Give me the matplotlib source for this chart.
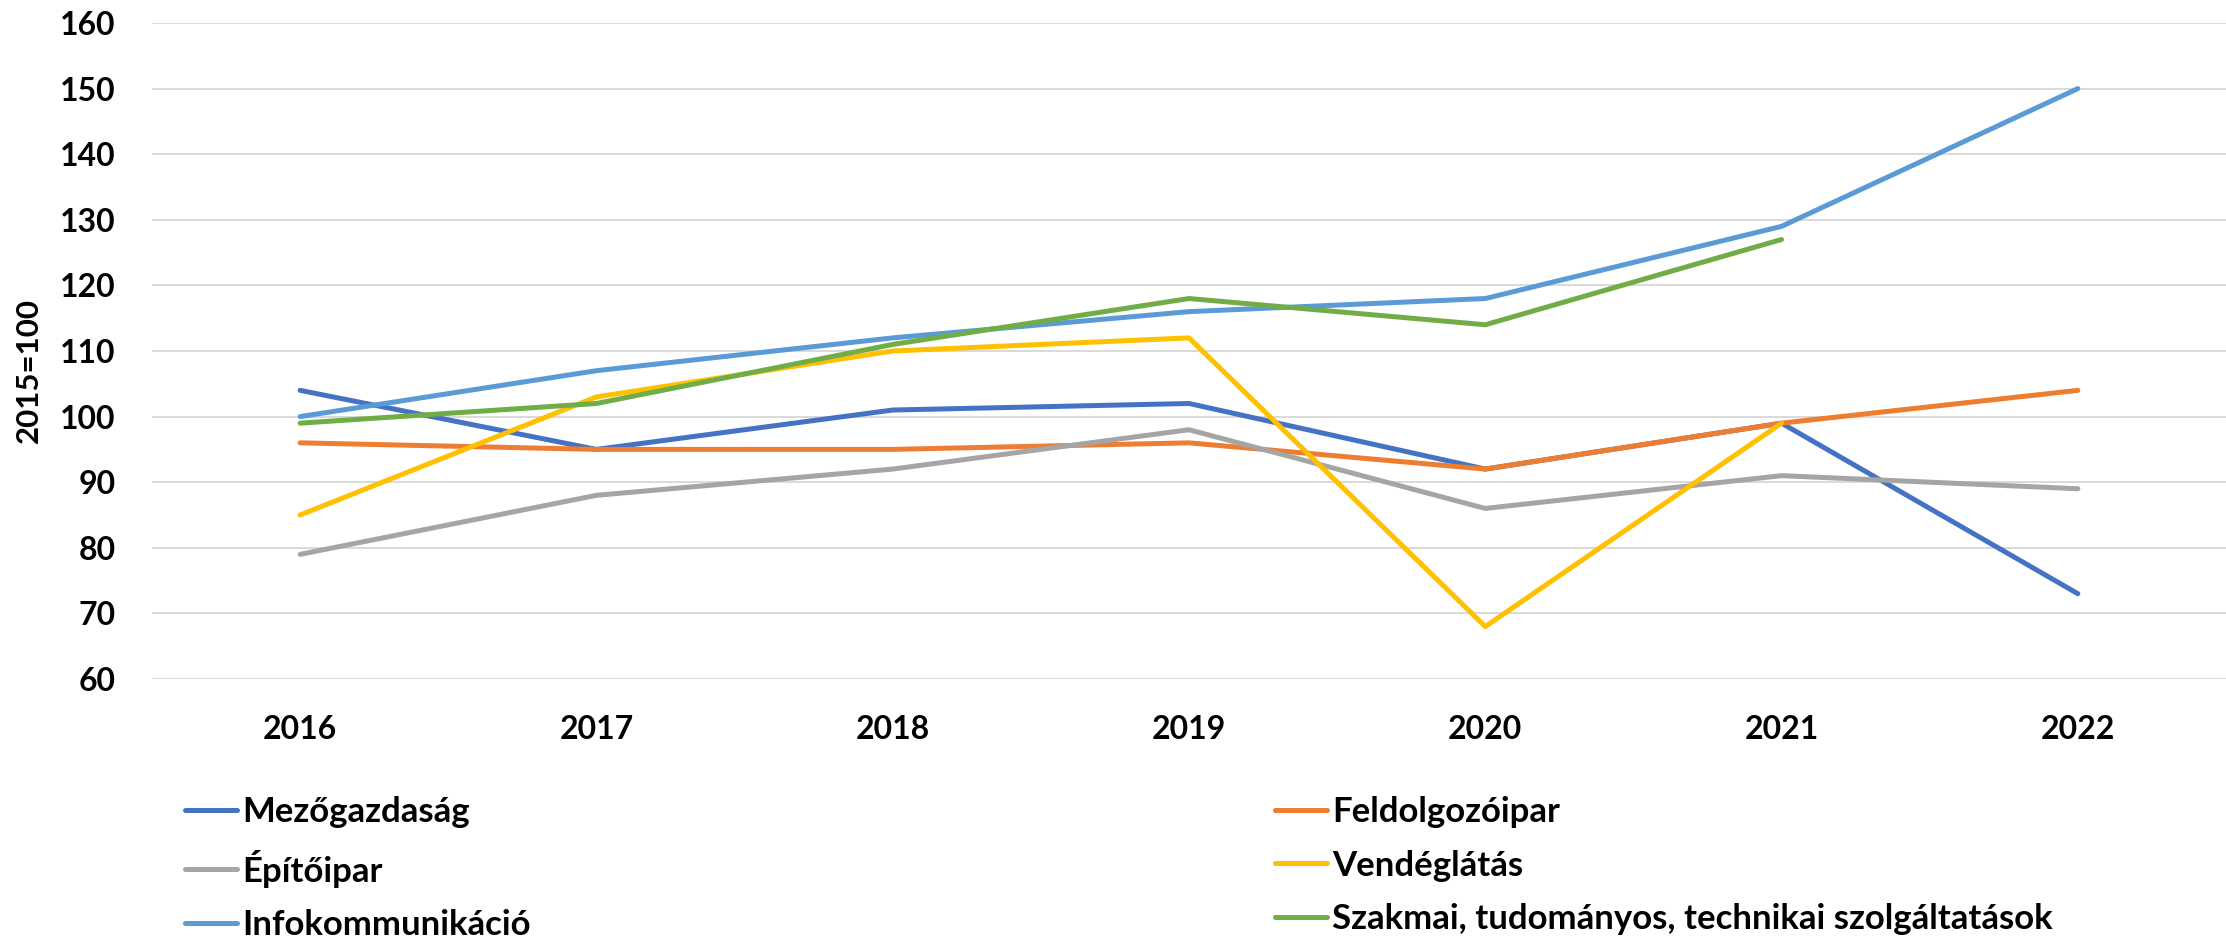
import numpy as np
import matplotlib
matplotlib.use("Agg")
import matplotlib.pyplot as plt

plt.rcParams['font.family'] = ['Lato', 'DejaVu Sans']
plt.rcParams['font.weight'] = 'bold'

# index values, 2015=100
years = ["2016", "2017", "2018", "2019", "2020", "2021", "2022"]
mezogazdasag = [104, 95, 101, 102, 92, 99, 73]
feldolgozoipar = [96, 95, 95, 96, 92, 99, 104]
epitoipar = [79, 88, 92, 98, 86, 91, 89]
vendeglatas = [85, 103, 110, 112, 68, 99, np.nan]
infokommunikacio = [100, 107, 112, 116, 118, 129, 150]
szakmai = [99, 102, 111, 118, 114, 127, np.nan]

series = [
    ("Mezőgazdaság", mezogazdasag, "#4472C4"),
    ("Feldolgozóipar", feldolgozoipar, "#ED7D31"),
    ("Építőipar", epitoipar, "#A5A5A5"),
    ("Vendéglátás", vendeglatas, "#FFC000"),
    ("Infokommunikáció", infokommunikacio, "#5B9BD5"),
    ("Szakmai, tudományos, technikai szolgáltatások", szakmai, "#70AD47"),
]

W, H = 2226, 938
fig = plt.figure(figsize=(W / 100, H / 100), dpi=100)
ax = fig.add_axes([152 / W, 1 - 679 / H, 1 - 152 / W, (679 - 23) / H])

x = np.arange(len(years))
lines = {}
for name, vals, col in series:
    ln, = ax.plot(x, vals, color=col, lw=3.6, solid_capstyle='round',
                  solid_joinstyle='round', label=name, zorder=3)
    lines[name] = ln

ax.set_xlim(-0.5, len(years) - 0.5)
ax.set_ylim(60, 160)
ax.set_yticks(range(60, 161, 10))
ax.set_xticks(x)
ax.set_xticklabels(years)
ax.grid(axis='y', color='#d9d9d9', lw=1.4, zorder=0)
for s in ax.spines.values():
    s.set_visible(False)
ax.tick_params(axis='both', length=0, labelsize=23)
ax.tick_params(axis='y', pad=26)
ax.tick_params(axis='x', pad=26)
ax.set_ylabel("2015=100", fontsize=22.5, fontweight='bold')
ax.yaxis.set_label_coords(-(152 - 43) / (W - 152), 0.47)

# legend in two columns, row-wise order like the original
col1 = ["Mezőgazdaság", "Építőipar", "Infokommunikáció"]
col2 = ["Feldolgozóipar", "Vendéglátás", "Szakmai, tudományos, technikai szolgáltatások"]
for names, xpos in [(col1, 185), (col2, 1275)]:
    fig.legend([lines[n] for n in names], names, loc='upper left',
               bbox_to_anchor=(xpos / W, 1 - 796 / H), frameon=False,
               fontsize=25, handlelength=1.5, handletextpad=0.15,
               labelspacing=0.62, borderpad=0, borderaxespad=0)

fig.savefig("out.png", dpi=100)
